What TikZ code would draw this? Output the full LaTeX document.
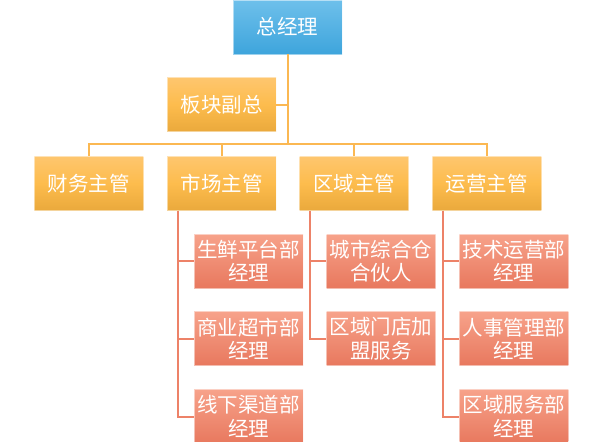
\documentclass[tikz,border=0pt]{standalone}
\usepackage{fontspec}
\setmainfont{Noto Sans CJK SC}
\usepackage{xcolor}
\usepackage{tikz}
\usetikzlibrary{positioning}
\definecolor{gmtop}{RGB}{110,192,235}
\definecolor{gmbot}{RGB}{62,165,220}
\definecolor{mgrtop}{RGB}{254,198,110}
\definecolor{mgrmid}{RGB}{253,188,77}
\definecolor{mgrbot}{RGB}{234,169,60}
\definecolor{subtop}{RGB}{247,162,138}
\definecolor{subbot}{RGB}{232,120,94}
\definecolor{mgrline}{RGB}{251,184,82}
\definecolor{subline}{RGB}{237,130,104}

\begin{document}
\begin{tikzpicture}[x=1pt, y=1pt,
  every node/.style={font=\fontsize{20.5}{23.5}\selectfont, text=white},
  box/.style={draw=white, draw opacity=0.5, line width=0.7pt, align=center,
              minimum width=109pt, minimum height=54pt, inner sep=0pt},
  gmbox/.style={box, top color=gmtop, bottom color=gmbot},
  mgrbox/.style={box, top color=mgrtop, bottom color=mgrbot, middle color=mgrmid},
  subbox/.style={box, top color=subtop, bottom color=subbot},
  link/.style={draw=mgrline, line width=2pt},
  sublink/.style={draw=subline, line width=2pt}
]
\useasboundingbox (0,0) rectangle (603,-442);
\node[gmbox] (gm) at (287.5,-27) {总经理};
\node[mgrbox, below=23pt of gm, xshift=-66pt] (vp) {板块副总};
\node[mgrbox, below=24pt of vp] (mkt) {市场主管};
\node[mgrbox, left=23pt of mkt] (fin) {财务主管};
\node[mgrbox, right=23pt of mkt] (reg) {区域主管};
\node[mgrbox, right=23pt of reg] (ops) {运营主管};
\coordinate[below=12pt of vp] (bus);

\node[subbox, below right=23pt and 27pt of mkt.south west] (mkt1) {生鲜平台部\\经理};
\node[subbox, below=23pt of mkt1] (mkt2) {商业超市部\\经理};
\node[subbox, below=23pt of mkt2] (mkt3) {线下渠道部\\经理};
\node[subbox, below right=23pt and 27pt of reg.south west] (reg1) {城市综合仓\\合伙人};
\node[subbox, below=23pt of reg1] (reg2) {区域门店加\\盟服务};
\node[subbox, below right=23pt and 27pt of ops.south west] (ops1) {技术运营部\\经理};
\node[subbox, below=23pt of ops1] (ops2) {人事管理部\\经理};
\node[subbox, below=23pt of ops2] (ops3) {区域服务部\\经理};

\draw[link] (gm.south) -- (gm |- bus);
\draw[link] (vp.east) -- (vp.east -| gm);
\draw[link] (fin.north) |- (bus) -| (ops.north);
\draw[link] (mkt.north) -- (mkt |- bus);
\draw[link] (reg.north) -- (reg |- bus);
\foreach \p/\c in {mkt/mkt1, mkt/mkt2, mkt/mkt3, reg/reg1, reg/reg2,
                   ops/ops1, ops/ops2, ops/ops3}
  \draw[sublink] ([xshift=11pt]\p.south west) |- (\c.west);
\end{tikzpicture}
\end{document}
